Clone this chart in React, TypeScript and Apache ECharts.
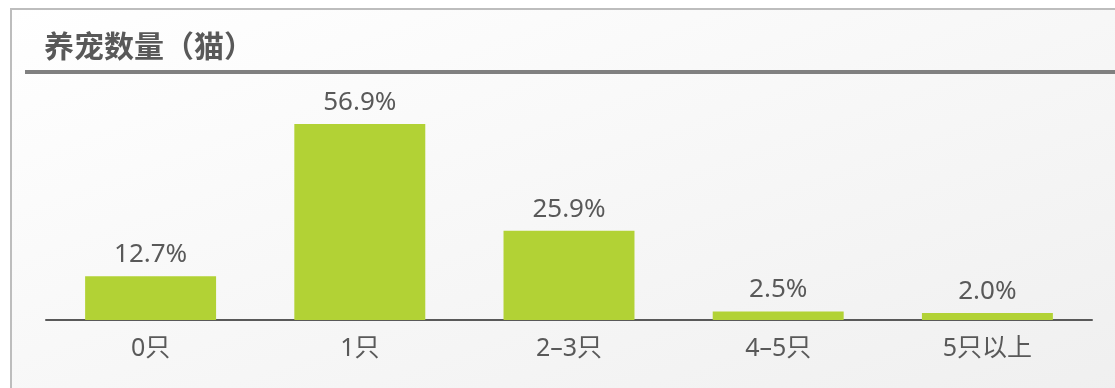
import React, { useEffect, useRef } from "react";
import * as echarts from "echarts";

const title = "养宠数量（猫）";
const categories = ["0只", "1只", "2–3只", "4–5只", "5只以上"];
const values = [12.7, 56.9, 25.9, 2.5, 2.0];

const FONT = "'Noto Sans', 'Noto Sans CJK SC', sans-serif";

export default function App() {
  const ref = useRef<HTMLDivElement>(null);
  useEffect(() => {
    if (!ref.current) return;
    const chart = echarts.init(ref.current, null, { renderer: "svg" });
    chart.setOption({
      animation: false,
      graphic: [
        {
          type: "rect",
          z: -10,
          shape: { x: 11, y: 9, width: 1120, height: 400 },
          style: {
            fill: new echarts.graphic.LinearGradient(0, 0, 1, 1, [
              { offset: 0, color: "#ffffff" },
              { offset: 1, color: "#efefef" },
            ]),
            stroke: "#bdbdbd",
            lineWidth: 2,
          },
        },
        {
          type: "text",
          x: 44,
          y: 45,
          style: {
            text: title,
            fontSize: 30,
            fontWeight: "bold",
            fill: "#595959",
            fontFamily: FONT,
            align: "left",
            verticalAlign: "middle",
          },
        },
        {
          type: "rect",
          shape: { x: 25, y: 70, width: 1100, height: 4 },
          style: { fill: "#808080" },
        },
      ],
      grid: { left: 46, right: 23, top: 113.3, bottom: 68 },
      xAxis: {
        type: "category",
        data: categories,
        axisLine: { lineStyle: { color: "#595959", width: 2 } },
        axisTick: { show: false },
        axisLabel: { fontSize: 25, color: "#595959", margin: 13, fontFamily: FONT },
      },
      yAxis: {
        type: "value",
        min: 0,
        max: 60,
        show: false,
        splitLine: { show: false },
      },
      series: [
        {
          type: "bar",
          data: values,
          barWidth: "62.6%",
          itemStyle: { color: "#b2d235" },
          label: {
            show: true,
            position: "top",
            distance: 11,
            fontSize: 26,
            color: "#595959",
            fontFamily: FONT,
            formatter: (p: any) => p.value.toFixed(1) + "%",
          },
        },
      ],
    });
    return () => chart.dispose();
  }, []);
  return (
    <div
      ref={ref}
      style={{ position: "fixed", left: 0, top: 0, width: 1115, height: 388 }}
    />
  );
}
